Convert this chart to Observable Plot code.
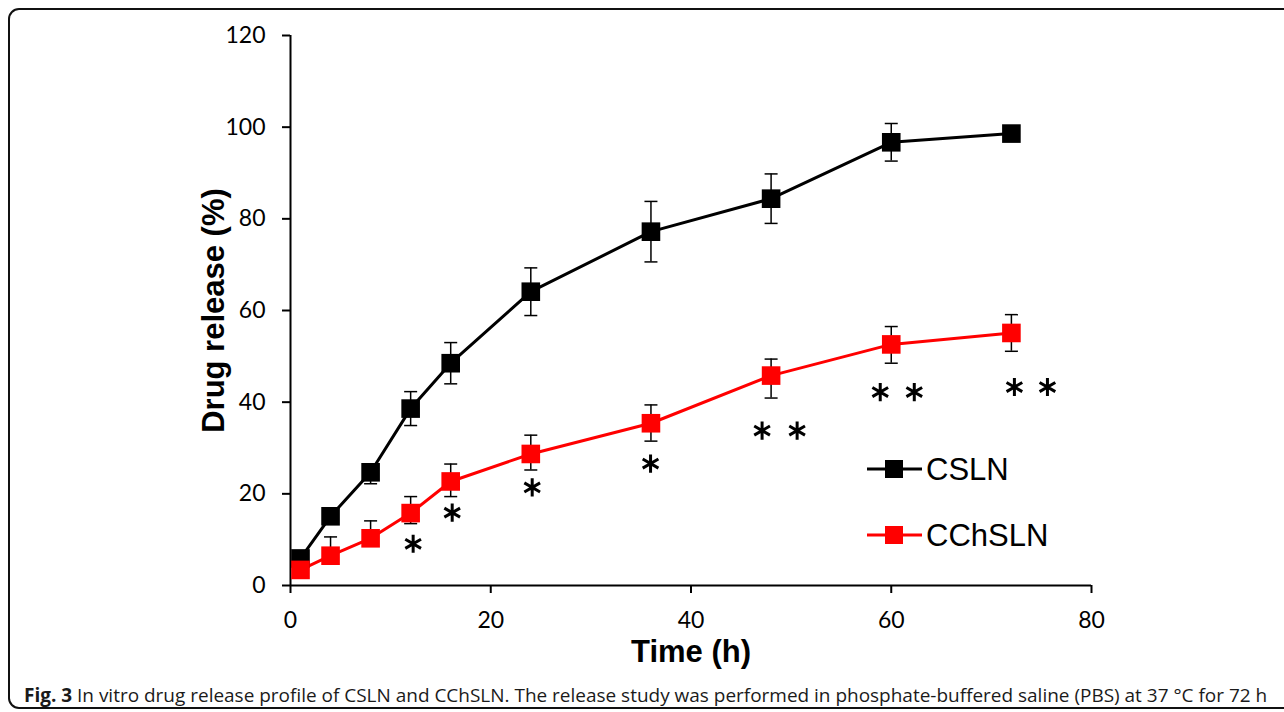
<!DOCTYPE html>
<html>
<head>
<meta charset="utf-8">
<script src="https://cdn.jsdelivr.net/npm/d3@7"></script>
<script src="https://cdn.jsdelivr.net/npm/@observablehq/plot@0.6"></script>
<style>
  html, body { margin: 0; padding: 0; background: #fff; width: 1284px; height: 712px; overflow: hidden; }
  #wrap { position: relative; width: 1284px; height: 712px; }
  #frame { position: absolute; left: 8px; top: 8px; width: 1300px; height: 701px; border: 2px solid #111; border-radius: 11px; box-sizing: border-box; }
  #chart { position: absolute; left: 0; top: 0; }
  #legend { position: absolute; left: 0; top: 0; }
  #caption { position: absolute; left: 24px; top: 682px; font-family: "Open Sans", sans-serif; font-size: 17px; color: #1a1a1a; white-space: nowrap; }
  #caption b { font-weight: 700; }
</style>
</head>
<body>
<div id="wrap">
  <div id="frame"></div>
  <div id="chart"></div>
  <svg id="legend" width="1284" height="712"></svg>
  <div id="caption"><b>Fig. 3</b> In vitro drug release profile of CSLN and CChSLN. The release study was performed in phosphate-buffered saline (PBS) at 37 °C for 72 h</div>
</div>
<script>
// ---- data ----
const times = [1, 4, 8, 12, 16, 24, 36, 48, 60, 72];
const cslnMean = [5.9, 15.1, 24.7, 38.6, 48.5, 64.1, 77.2, 84.4, 96.7, 98.6];
const cslnErrUp = [1.0, 1.5, 1.5, 3.7, 4.5, 5.2, 6.6, 5.4, 4.1, 0.8];
const cslnErrDown = [1.0, 1.5, 2.5, 3.7, 4.5, 5.2, 6.6, 5.4, 4.1, 0.8];
const cchslnMean = [3.4, 6.5, 10.3, 15.8, 22.7, 28.7, 35.4, 45.8, 52.6, 55.1];
const cchslnErrUp = [1.0, 4.1, 3.8, 3.6, 3.8, 4.1, 4.0, 3.6, 3.9, 4.0];
const cchslnErrDown = [1.0, 1.5, 1.5, 2.3, 3.3, 3.5, 3.9, 4.9, 4.1, 4.0];
const seriesNames = ["CSLN", "CChSLN"];
const seriesColors = ["#000000", "#ff0000"];
const starX = [12.25, 16.15, 24.14, 35.96, 47.1, 50.6, 58.9, 62.3, 72.3, 75.6];
const starY = [9.1, 15.9, 21.4, 26.6, 33.8, 33.8, 42.2, 42.2, 43.3, 43.3];
const xTicks = [0, 20, 40, 60, 80];
const yTicks = [0, 20, 40, 60, 80, 100, 120];
const xTitle = "Time (h)";
const yTitle = "Drug release (%)";

// ---- build rows ----
const rows = [];
times.forEach((t, i) => {
  rows.push({t, v: cslnMean[i], up: cslnErrUp[i], dn: cslnErrDown[i], s: seriesNames[0]});
});
times.forEach((t, i) => {
  rows.push({t, v: cchslnMean[i], up: cchslnErrUp[i], dn: cchslnErrDown[i], s: seriesNames[1]});
});
const stars = starX.map((x, i) => ({x, y: starY[i]}));

const cap = { draw(ctx) { ctx.moveTo(-6.5, 0); ctx.lineTo(6.5, 0); } };

const chart = Plot.plot({
  width: 1284,
  height: 680,
  marginLeft: 290,
  marginRight: 193,
  marginTop: 35,
  marginBottom: 95,
  style: { fontFamily: "Lato, sans-serif", fontSize: "22px", color: "#000", background: "transparent", overflow: "visible" },
  x: { domain: [0, 80], ticks: xTicks, label: null },
  y: { domain: [0, 120], ticks: yTicks, label: null },
  color: { domain: seriesNames, range: seriesColors },
  marks: [
    Plot.axisX({ ticks: xTicks, tickSize: 8, tickPadding: 18, strokeWidth: 2, label: null, fontSize: 23 }),
    Plot.axisY({ ticks: yTicks, tickSize: 8, tickPadding: 17, strokeWidth: 2, label: null, fontSize: 23 }),
    Plot.ruleX([0], { stroke: "#000", strokeWidth: 2 }),
    Plot.ruleY([0], { stroke: "#000", strokeWidth: 2 }),
    Plot.line(rows, { x: "t", y: "v", z: "s", stroke: "s", strokeWidth: 3 }),
    Plot.ruleX(rows, { x: "t", y1: d => d.v - d.dn, y2: d => d.v + d.up, stroke: "#000", strokeWidth: 1.5 }),
    Plot.dot(rows, { x: "t", y: d => d.v + d.up, symbol: cap, r: 5, stroke: "#000", strokeWidth: 1.5, fill: "none" }),
    Plot.dot(rows, { x: "t", y: d => d.v - d.dn, symbol: cap, r: 5, stroke: "#000", strokeWidth: 1.5, fill: "none" }),
    Plot.dot(rows, { x: "t", y: "v", symbol: "square", r: 10.5, fill: "s", stroke: null }),
    Plot.dot(stars, { x: "x", y: "y", symbol: "asterisk", r: 8.6, stroke: "#000", strokeWidth: 3 }),
    Plot.text([xTitle], { frameAnchor: "bottom", dy: 67, text: d => d, fontSize: 31, fontWeight: "bold", fontFamily: "Liberation Sans, Arial, sans-serif", lineAnchor: "middle", textAnchor: "middle", fill: "#000" }),
    Plot.text([yTitle], { frameAnchor: "left", dx: -76, rotate: -90, text: d => d, fontSize: 31, fontWeight: "bold", fontFamily: "Liberation Sans, Arial, sans-serif", lineAnchor: "middle", textAnchor: "middle", fill: "#000" })
  ]
});
document.getElementById("chart").appendChild(chart);

// ---- legend ----
const lg = d3.select("#legend");
const legendRows = [469, 535];
seriesNames.forEach((name, i) => {
  const y = legendRows[i];
  lg.append("line").attr("x1", 867).attr("x2", 922).attr("y1", y).attr("y2", y)
    .attr("stroke", seriesColors[i]).attr("stroke-width", 3);
  lg.append("rect").attr("x", 885).attr("y", y - 9).attr("width", 18).attr("height", 18)
    .attr("fill", seriesColors[i]);
  lg.append("text").attr("x", 926).attr("y", y).attr("dy", "0.36em")
    .attr("font-family", "Liberation Sans, Arial, sans-serif").attr("font-size", 31)
    .attr("fill", "#000").text(name);
});

// ---- fit caption width ----
const capEl = document.getElementById("caption");
const w = capEl.getBoundingClientRect().width;
const target = 1244;
capEl.style.fontSize = (17 * target / w).toFixed(2) + "px";
</script>
</body>
</html>
